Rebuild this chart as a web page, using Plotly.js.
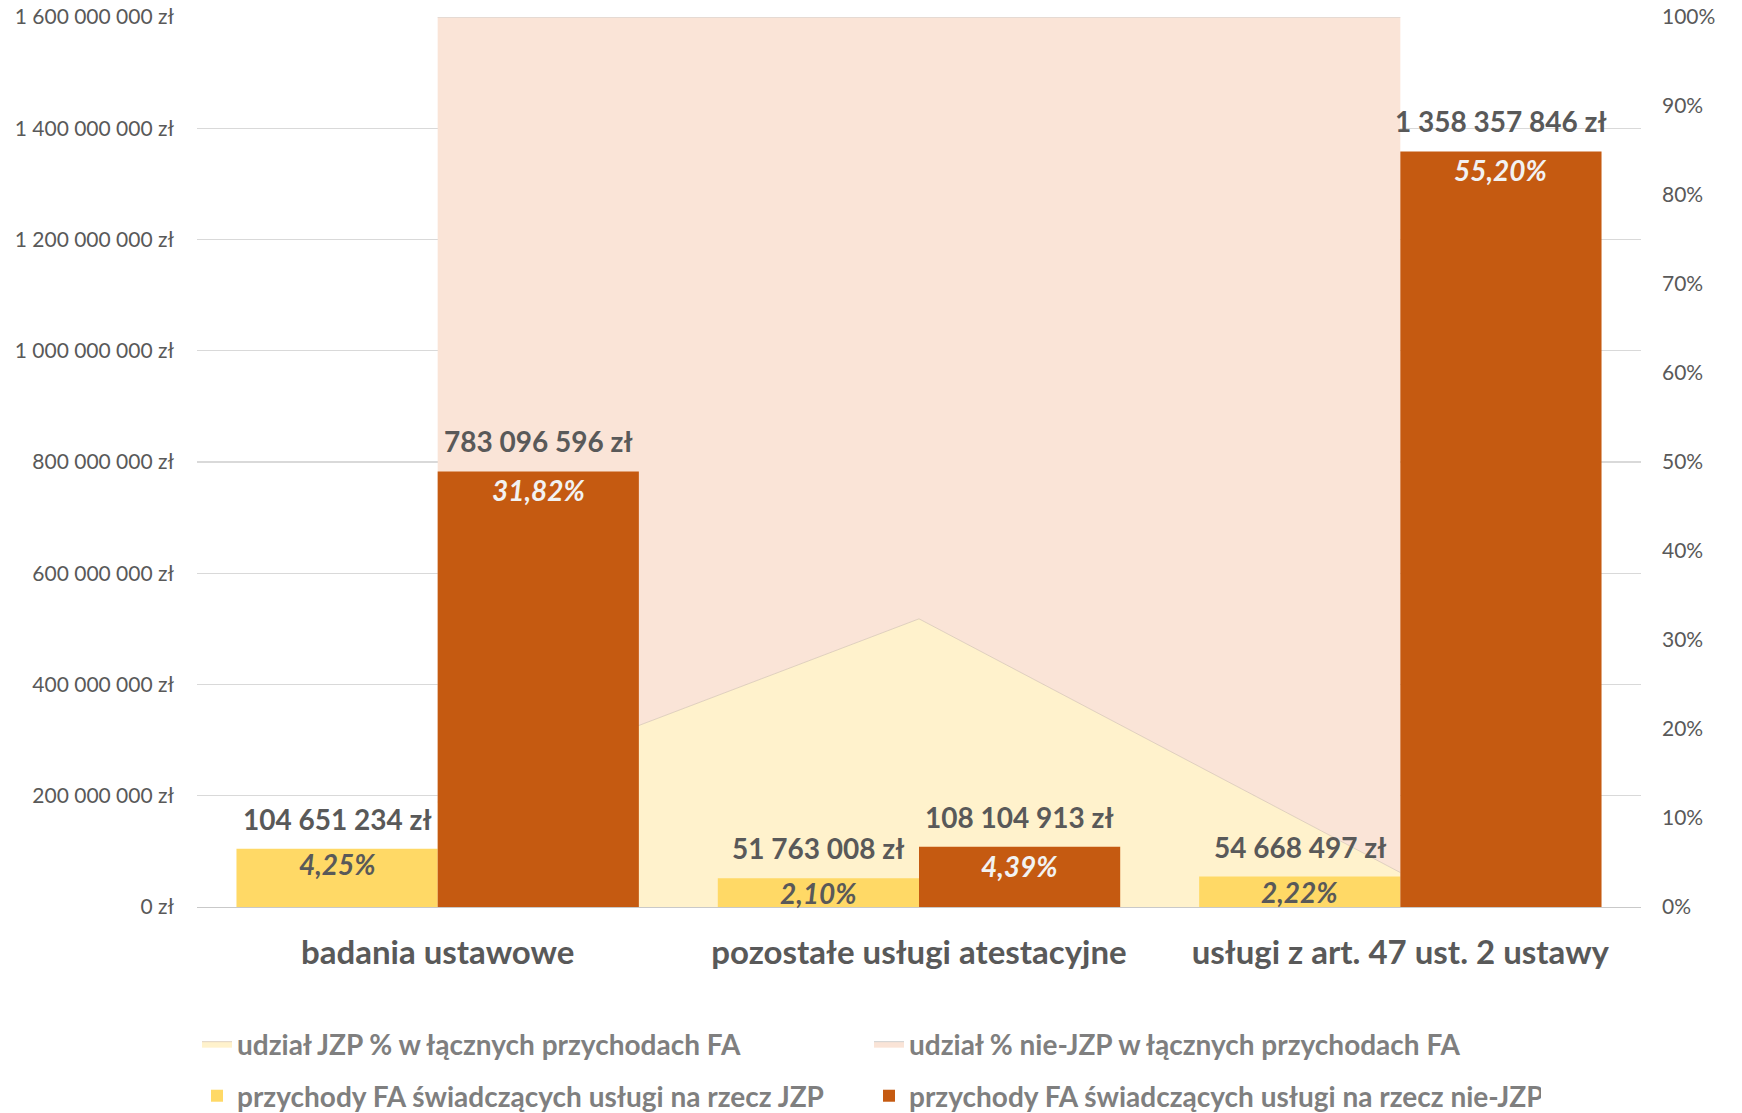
<!DOCTYPE html>
<html><head><meta charset="utf-8">
<script src="https://cdn.plot.ly/plotly-3.0.1.min.js"></script>
<style>html,body{margin:0;padding:0;background:#fff}#chart{width:1742px;height:1113px}</style>
</head><body><div id="chart"></div>
<script>
// ---- data ----
const categories = ['badania ustawowe', 'pozostałe usługi atestacyjne', 'usługi z art. 47 ust. 2 ustawy'];
const revenueJZP = [104651234, 51763008, 54668497];
const revenueNonJZP = [783096596, 108104913, 1358357846];
const pctOfTotalJZP = [4.25, 2.10, 2.22];
const pctOfTotalNonJZP = [31.82, 4.39, 55.20];
const shareJZP = [11.79, 32.38, 3.87];
const shareNonJZP = [88.21, 67.62, 96.13];
const names = [
  'udział JZP % w łącznych przychodach FA',
  'udział % nie-JZP w łącznych przychodach FA',
  'przychody FA świadczących usługi na rzecz JZP',
  'przychody FA świadczących usługi na rzecz nie-JZP'
];

// ---- styling ----
const W = 1742, H = 1113;
const M = {l: 197, r: 101, t: 17, b: 206, autoexpand: false};
const BARGAP = 0.164;
const FONT = 'Lato, "Open Sans", sans-serif';
const plotW = W - M.l - M.r;
const barW = plotW / categories.length * (1 - BARGAP) / 2;

function fmtZl(n) {
  return String(n).replace(/\B(?=(\d{3})+(?!\d))/g, ' ') + ' zł';
}
function fmtPct(p) {
  return p.toFixed(2).replace('.', ',') + '%';
}

const traces = [
  {type: 'scatter', x: categories, y: shareJZP, name: names[0], stackgroup: 'one',
   mode: 'lines', line: {color: '#D8C8B6', width: 0.8}, fillcolor: '#FFF2CC',
   xaxis: 'x', yaxis: 'y', legend: 'legend', hoverinfo: 'skip'},
  {type: 'scatter', x: categories, y: shareNonJZP, name: names[1], stackgroup: 'one',
   mode: 'lines', line: {color: '#D0D0D0', width: 1}, fillcolor: '#FAE4D7',
   xaxis: 'x', yaxis: 'y', legend: 'legend', hoverinfo: 'skip'},
  {type: 'bar', x: categories, y: revenueJZP, name: names[2],
   marker: {color: '#FFD966'}, xaxis: 'x', yaxis: 'y2', legend: 'legend2', textposition: 'none'},
  {type: 'bar', x: categories, y: revenueNonJZP, name: names[3],
   marker: {color: '#C55A11'}, xaxis: 'x', yaxis: 'y2', legend: 'legend2', textposition: 'none'}
];

const annotations = [];
categories.forEach((c, i) => {
  [[revenueJZP, pctOfTotalJZP, -1, '#595959', 4], [revenueNonJZP, pctOfTotalNonJZP, 1, '#F2F2F2', 0]]
    .forEach(([vals, pcts, side, pctColor, pctShift]) => {
    annotations.push({
      x: c, y: vals[i], xref: 'x', yref: 'y2', text: fmtZl(vals[i]),
      showarrow: false, yanchor: 'bottom', xanchor: 'center',
      xshift: side * barW / 2, yshift: 11,
      font: {family: FONT, size: 28, color: '#595959', weight: 'bold'}
    });
    annotations.push({
      x: c, y: vals[i], xref: 'x', yref: 'y2', text: fmtPct(pcts[i]),
      showarrow: false, yanchor: 'top', xanchor: 'center',
      xshift: side * barW / 2, yshift: pctShift,
      font: {family: FONT, size: 28, color: pctColor, weight: 'bold', style: 'italic'}
    });
  });
});

const legendCommon = {
  orientation: 'h', x: 0, xanchor: 'left', yanchor: 'top',
  entrywidth: 627, entrywidthmode: 'pixels', bgcolor: 'rgba(0,0,0,0)',
  font: {family: FONT, size: 28, color: '#7F7F7F', weight: 'bold'}, traceorder: 'normal'
};

const layout = {
  width: W, height: H, margin: M,
  paper_bgcolor: '#fff', plot_bgcolor: '#fff',
  separators: ', ',
  font: {family: FONT, color: '#595959'},
  barmode: 'group', bargap: BARGAP, bargroupgap: 0,
  showlegend: true,
  xaxis: {type: 'category', showgrid: false, zeroline: false, showline: true,
          linecolor: '#C9C9C9', linewidth: 1.3, ticks: '', ticklabelstandoff: 16,
          tickfont: {family: FONT, size: 33, color: '#595959', weight: 'bold'}},
  yaxis: {range: [0, 100], dtick: 10, ticksuffix: '%', side: 'right', showgrid: false,
          zeroline: false, showline: false, ticks: '', ticklabelstandoff: 20,
          tickfont: {family: FONT, size: 21, color: '#595959'}},
  yaxis2: {range: [0, 1600000000], dtick: 200000000, tickformat: ',d', ticksuffix: ' zł',
           overlaying: 'y', side: 'left', showgrid: true, gridcolor: '#D9D9D9', gridwidth: 1.3,
           zeroline: false, showline: false, ticks: '', ticklabelstandoff: 22,
           tickfont: {family: FONT, size: 21, color: '#595959'}},
  legend: Object.assign({}, legendCommon, {y: -0.1258}),
  legend2: Object.assign({}, legendCommon, {y: -0.1843}),
  annotations: annotations
};

Plotly.newPlot('chart', traces, layout, {displayModeBar: false, staticPlot: true});
</script></body></html>
